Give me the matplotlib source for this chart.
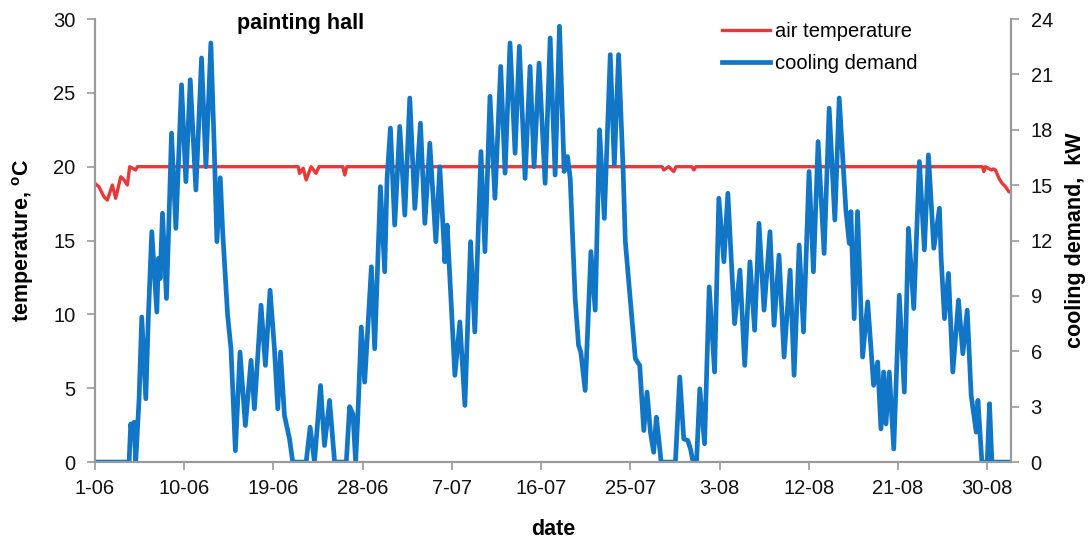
import matplotlib
matplotlib.use("Agg")
import matplotlib.pyplot as plt

plt.rcParams['font.family'] = ['Liberation Sans', 'DejaVu Sans']
plt.rcParams['mathtext.fontset'] = 'custom'
plt.rcParams['mathtext.rm'] = 'Liberation Sans'
plt.rcParams['mathtext.bf'] = 'Liberation Sans:bold'

# days since 1 June
tick_days = [0, 9, 18, 27, 36, 45, 54, 63, 72, 81, 90]
tick_labels = ["1-06", "10-06", "19-06", "28-06", "7-07", "16-07",
               "25-07", "3-08", "12-08", "21-08", "30-08"]

# air temperature in the hall, degC
temp_day = [0, 0.40, 0.91, 1.25, 1.75, 2.09, 2.60, 2.93, 3.27, 3.50, 4.11, 4.28,
            20.5, 20.63, 21.0, 21.3, 21.8, 22.3, 22.6, 25.0, 25.2, 25.4,
            57.2, 57.36, 57.87, 58.37, 58.6, 60.2, 60.4, 60.6,
            89.5, 89.65, 89.8, 90.4, 90.6, 90.82, 91.17, 91.5, 91.84, 92.18, 92.35]
temp_val = [18.87, 18.64, 17.96, 17.74, 18.76, 17.86, 19.32, 19.10, 18.76, 20.0, 19.78, 20.0,
            20.0, 19.55, 19.9, 19.1, 20.0, 19.55, 20.0, 20.0, 19.44, 20.0,
            20.0, 19.78, 20.0, 19.67, 20.0, 20.0, 19.78, 20.0,
            20.0, 19.67, 20.0, 19.78, 19.85, 19.78, 19.21, 18.87, 18.64, 18.3, 18.3]

# cooling demand, kW
cool_day = [0, 3.44, 3.61, 3.78, 3.94, 4.11, 4.45, 4.72, 5.13, 5.39, 5.73, 6.24, 6.40,
            6.57, 6.81, 7.21, 7.48, 7.72, 8.16, 8.73, 9.17, 9.61, 10.18, 10.75, 11.19,
            11.69, 12.03, 12.30, 12.64, 12.88, 13.38, 13.72, 14.16, 14.63, 15.17, 15.74,
            16.08, 16.75, 17.19, 17.66, 18.1, 18.44, 18.71, 19.11, 19.62, 19.95, 21.3,
            21.7, 22.14, 22.75, 23.15, 23.66, 24.17, 25.35, 25.68, 26.02, 26.29, 26.52,
            26.86, 27.2, 27.88, 28.21, 28.79, 29.22, 29.46, 29.8, 30.23, 30.74, 31.25,
            31.75, 32.26, 32.83, 33.27, 33.77, 34.38, 34.78, 35.29, 35.52, 36.3, 36.8,
            37.31, 37.88, 38.31, 38.93, 39.33, 39.84, 40.34, 40.92, 41.36, 41.86, 42.37,
            42.8, 43.38, 43.88, 44.29, 44.79, 45.4, 45.91, 46.41, 46.85, 47.32, 47.66,
            47.93, 48.43, 48.77, 49.0, 49.44, 50.02, 50.45, 50.89, 51.37, 51.97, 52.38,
            52.81, 53.26, 53.49, 54.5, 54.94, 55.35, 55.68, 56.02, 56.35, 56.62, 56.86,
            57.1, 58.54, 58.98, 59.38, 59.79, 60.06, 60.33, 60.67, 61.0, 61.48, 61.95,
            62.49, 62.92, 63.43, 63.83, 64.51, 65.05, 65.53, 66.06, 66.53, 66.97, 67.48,
            68.08, 68.49, 68.99, 69.5, 70.11, 70.51, 71.02, 71.46, 72.02, 72.46, 72.93,
            73.54, 74.05, 74.62, 75.06, 75.73, 76.07, 76.24, 76.57, 76.91, 77.42, 77.93,
            78.53, 78.94, 79.27, 79.54, 79.78, 80.11, 80.56, 81.12, 81.63, 82.04, 82.58,
            83.15, 83.65, 84.06, 84.6, 85.17, 85.34, 85.68, 86.08, 86.52, 87.09, 87.53,
            87.97, 88.37, 88.88, 89.05, 89.45, 89.99, 90.22, 90.46, 92.4]
cool_val = [0, 0, 2.07, 1.44, 2.16, 0, 3.43, 7.86, 3.43, 7.95, 12.48, 8.13, 11.03,
            9.94, 13.48, 8.86, 13.39, 17.82, 12.66, 20.44, 15.19, 20.71, 14.74, 21.89, 16.0,
            22.70, 17.0, 11.94, 15.4, 12.48, 7.95, 6.14, 0.62, 5.96, 1.98, 5.51,
            2.89, 8.50, 5.24, 9.31, 6.14, 2.89, 5.96, 2.53, 1.26, 0, 0,
            1.89, 0, 4.15, 0.90, 3.34, 0, 0, 3.0, 2.6, 0, 2.61,
            7.32, 4.33, 10.58, 6.14, 14.92, 10.31, 15.37, 18.09, 12.84, 18.18, 13.38,
            19.72, 13.74, 18.36, 12.93, 17.27, 11.94, 16.0, 10.85, 12.84, 4.70, 7.59,
            3.07, 11.94, 7.05, 16.82, 11.40, 19.81, 14.29, 21.43, 15.65, 22.70, 16.73,
            22.52, 15.37, 21.43, 16.0, 21.61, 15.10, 22.97, 15.55, 23.61, 15.74, 16.55,
            15.37, 8.86, 6.33, 5.96, 3.88, 11.40, 8.23, 18.0, 13.2, 22.07, 16.1,
            22.07, 15.92, 11.94, 5.60, 5.24, 1.71, 3.79, 1.62, 0.53, 2.43, 1.26,
            0, 0, 4.61, 1.26, 1.17, 0.71, 0, 0, 3.97, 0.99, 9.49,
            4.88, 14.29, 10.85, 14.56, 7.50, 10.40, 5.24, 10.85, 7.14, 12.93, 8.23,
            12.48, 7.41, 11.21, 5.69, 10.40, 4.70, 11.76, 7.05, 15.74, 10.31, 17.36,
            11.30, 19.17, 13.11, 19.72, 13.66, 11.85, 13.57, 7.77, 13.57, 5.69, 8.68,
            4.16, 5.42, 1.80, 4.88, 2.07, 4.88, 0.71, 9.04, 3.79, 12.66, 8.32,
            16.28, 11.49, 16.64, 11.58, 13.75, 11.03, 7.77, 10.22, 4.88, 8.77, 5.87,
            8.23, 3.61, 1.62, 3.34, 0, 0, 3.16, 0, 0]

red = '#e8383a'
blue = '#1176c6'
grey = '#9a9a9a'

fig, ax = plt.subplots(figsize=(10.89, 5.43), dpi=100)
fig.subplots_adjust(left=0.0872, right=0.9285, top=0.965, bottom=0.149)
ax2 = ax.twinx()

l1, = ax.plot(temp_day, temp_val, color=red, lw=2.4, label='air temperature')
l2, = ax2.plot(cool_day, cool_val, color=blue, lw=3.4, label='cooling demand')

ax.set_xlim(0, 92.4)
ax.set_ylim(0, 30)
ax2.set_ylim(0, 24)
ax.set_yticks(range(0, 31, 5))
ax2.set_yticks(range(0, 25, 3))
ax.set_xticks(tick_days)
ax.set_xticklabels(tick_labels)

for a in (ax, ax2):
    a.spines['top'].set_visible(False)
    for s in ('left', 'right', 'bottom'):
        a.spines[s].set_color(grey)
        a.spines[s].set_linewidth(1.5)
    a.tick_params(colors=grey, labelcolor='#111111', labelsize=14.5, length=6, width=1.2, direction='out')

ax.tick_params(axis='y', pad=8)
ax2.tick_params(axis='y', pad=8)
ax.tick_params(axis='x', pad=6)

ax.set_xlabel('date', fontsize=15.5, fontweight='bold', labelpad=15)
ax.set_ylabel(r'temperature, $\mathbf{^{o}}$C', fontsize=15.5, fontweight='bold', labelpad=12)
ax2.set_ylabel('cooling demand,  kW', fontsize=15.5, fontweight='bold', labelpad=9)

ax.text(0.224, 0.99, 'painting hall', transform=ax.transAxes, fontsize=15.5,
        fontweight='bold', ha='center', va='center')

ax2.legend(handles=[l1, l2], loc='upper left', bbox_to_anchor=(0.676, 1.012),
           frameon=False, fontsize=14.5, handlelength=2.35, handletextpad=0.25,
           labelspacing=0.65, borderaxespad=0)

fig.savefig('out.png', dpi=100)
